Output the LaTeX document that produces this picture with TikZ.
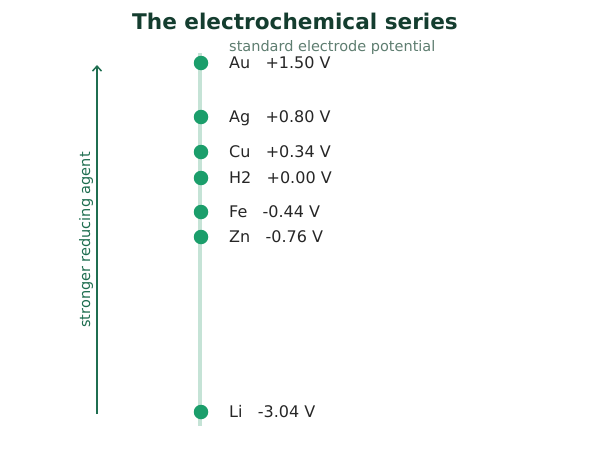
\documentclass[tikz,border=0pt]{standalone}
\usepackage{fontspec}
\setmainfont{DejaVu Sans}
\usetikzlibrary{arrows.meta}
\definecolor{titlecol}{HTML}{143D2F}
\definecolor{dotcol}{HTML}{1B9E6B}
\definecolor{railcol}{HTML}{C5E3D6}
\definecolor{arrowcol}{HTML}{1F6E50}
\definecolor{labcol}{HTML}{262626}
\definecolor{subcol}{HTML}{5E7D70}
\begin{document}
\begin{tikzpicture}[x=1pt,y=-1pt,
  dotmark/.style={circle,fill=dotcol,inner sep=0pt,minimum size=14.5pt},
  lab/.style={anchor=base west,inner sep=0pt,text=labcol,font=\fontsize{16}{18}\selectfont}]
\useasboundingbox (0,0) rectangle (590,453);
\node[font=\fontsize{21.6}{24}\bfseries\selectfont,text=titlecol,anchor=base] (title) at (295,29.5) {The electrochemical series};
\node[anchor=base west,inner sep=0pt,text=subcol,font=\fontsize{14.5}{16}\selectfont] (sub) at (229,51) {standard electrode potential};
\coordinate (railtop) at (200,53);
\coordinate (railbot) at (200,426);
\draw[railcol,line width=3.5pt] (railtop) -- (railbot);
\coordinate (arrbot) at (97,414);
\coordinate (arrtop) at (97,65);
\draw[arrowcol,line width=1.5pt,-{Straight Barb[length=5pt,width=9pt]}] (arrbot) -- (arrtop);
\node[rotate=90,text=arrowcol,font=\fontsize{14.5}{16}\selectfont] (reduc) at (86,240) {stronger reducing agent};
\foreach \nm/\y/\t in {au/63/{Au\ \ \ +1.50 V},ag/117/{Ag\ \ \ +0.80 V},cu/152/{Cu\ \ \ +0.34 V},h/178/{H2\ \ \ +0.00 V},fe/212/{Fe\ \ \ -0.44 V},zn/237/{Zn\ \ \ -0.76 V},li/412/{Li\ \ \ -3.04 V}}{
  \node[dotmark] (d\nm) at (201,\y) {};
  \node[lab] (l\nm) at (229,\y+5.6) {\t};
}
\end{tikzpicture}
\end{document}
